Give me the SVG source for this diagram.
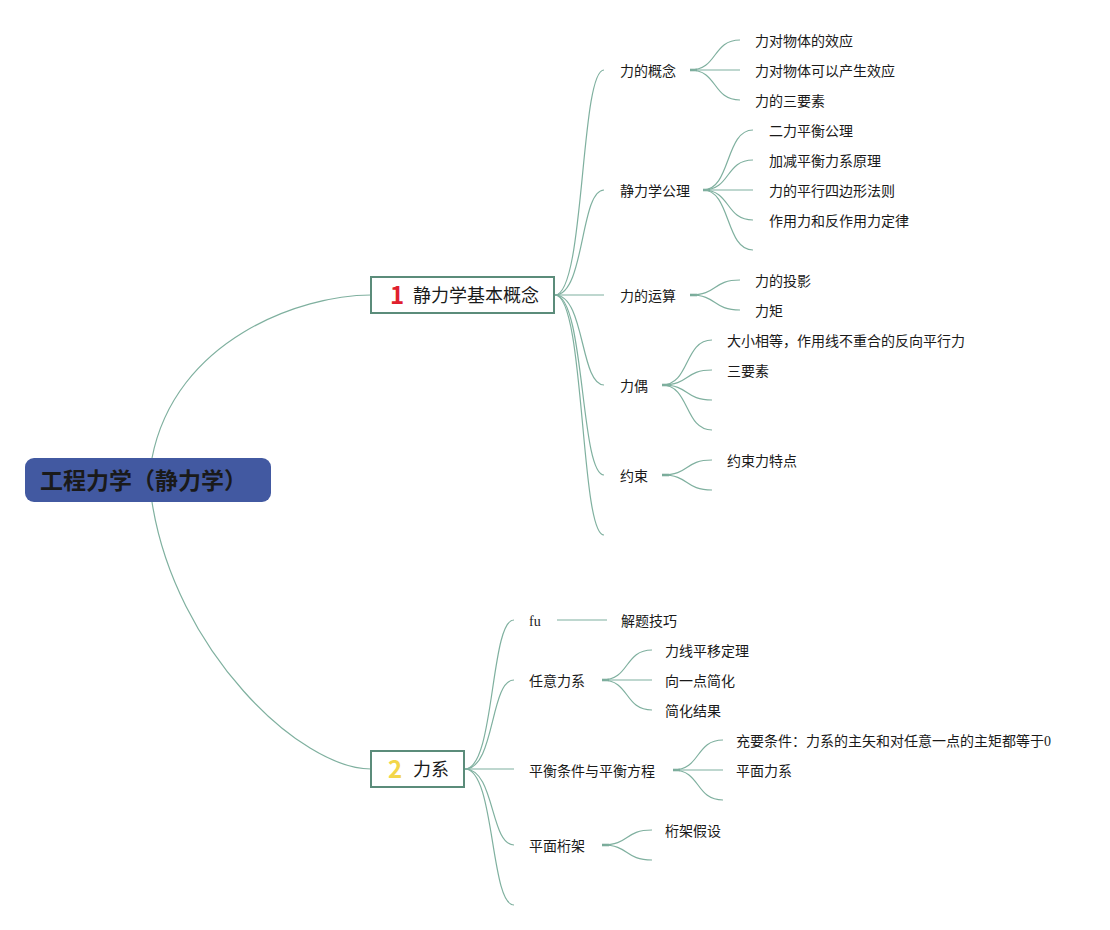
<svg xmlns="http://www.w3.org/2000/svg" width="1110" height="930" viewBox="0 0 1110 930">
<style>
text{font-family:"Noto Sans CJK SC","Liberation Sans",sans-serif;fill:#1a1a1a}
.lbl{font-size:14px}
.ser{font-family:"Liberation Serif","Noto Sans CJK SC",serif}
.ln{fill:none;stroke:#7fb09f;stroke-width:1.2}
.stub{stroke:#6c9f8d;stroke-width:2.5}
.box{fill:#fff;stroke:#5b8c7a;stroke-width:2}
</style>
<rect width="1110" height="930" fill="#fff"/>
<g id="connectors">
<path class="ln" d="M152,458 C175,340 300,295 371,295"/>
<path class="ln" d="M152,502 C175,650 300,769 371,769"/>
<!-- main1 to subs -->
<path class="ln" d="M555,295 C585,295 580,70 604,70"/>
<path class="ln" d="M555,295 C585,295 580,190 604,190"/>
<path class="ln" d="M555,295 L604,295"/>
<path class="ln" d="M555,295 C585,295 580,385 604,385"/>
<path class="ln" d="M555,295 C585,295 580,475 604,475"/>
<path class="ln" d="M555,295 C585,295 580,535 604,535"/>
<!-- 力的概念 -->
<line class="stub" x1="690" y1="70" x2="697" y2="70"/>
<path class="ln" d="M690,70 C718,70 712,40 740,40"/>
<path class="ln" d="M690,70 L740,70"/>
<path class="ln" d="M690,70 C718,70 712,100 740,100"/>
<!-- 静力学公理 -->
<line class="stub" x1="703" y1="190" x2="710" y2="190"/>
<path class="ln" d="M703,190 C731,190 725,130 753,130"/>
<path class="ln" d="M703,190 C731,190 725,160 753,160"/>
<path class="ln" d="M703,190 L753,190"/>
<path class="ln" d="M703,190 C731,190 725,220 753,220"/>
<path class="ln" d="M703,190 C731,190 725,250 753,250"/>
<!-- 力的运算 -->
<line class="stub" x1="690" y1="295" x2="697" y2="295"/>
<path class="ln" d="M690,295 C718,295 712,280 740,280"/>
<path class="ln" d="M690,295 C718,295 712,310 740,310"/>
<!-- 力偶 -->
<line class="stub" x1="662" y1="385" x2="669" y2="385"/>
<path class="ln" d="M662,385 C690,385 684,340 712,340"/>
<path class="ln" d="M662,385 C690,385 684,370 712,370"/>
<path class="ln" d="M662,385 C690,385 684,400 712,400"/>
<path class="ln" d="M662,385 C690,385 684,430 712,430"/>
<!-- 约束 -->
<line class="stub" x1="662" y1="475" x2="669" y2="475"/>
<path class="ln" d="M662,475 C690,475 684,460 712,460"/>
<path class="ln" d="M662,475 C690,475 684,490 712,490"/>
<!-- main2 to subs -->
<path class="ln" d="M465,769 C495,769 490,620 514,620"/>
<path class="ln" d="M465,769 C495,769 490,680 514,680"/>
<path class="ln" d="M465,769 L514,769"/>
<path class="ln" d="M465,769 C495,769 490,845 514,845"/>
<path class="ln" d="M465,769 C495,769 490,905 514,905"/>
<!-- fu -->
<path class="ln" d="M557,620 L607,620"/>
<!-- 任意力系 -->
<line class="stub" x1="602" y1="680" x2="609" y2="680"/>
<path class="ln" d="M602,680 C630,680 624,650 652,650"/>
<path class="ln" d="M602,680 L652,680"/>
<path class="ln" d="M602,680 C630,680 624,710 652,710"/>
<!-- 平衡条件 -->
<line class="stub" x1="673" y1="770" x2="680" y2="770"/>
<path class="ln" d="M673,770 C701,770 695,740 723,740"/>
<path class="ln" d="M673,770 L723,770"/>
<path class="ln" d="M673,770 C701,770 695,800 723,800"/>
<!-- 平面桁架 -->
<line class="stub" x1="602" y1="845" x2="609" y2="845"/>
<path class="ln" d="M602,845 C630,845 624,830 652,830"/>
<path class="ln" d="M602,845 C630,845 624,860 652,860"/>
</g>
<g id="root">
<rect x="25" y="458" width="246" height="44" rx="9" fill="#4259a1"/>
<text x="40" y="489" font-size="23" font-weight="bold" fill="#111">工程力学（静力学）</text>
</g>
<g id="main1">
<rect class="box" x="371" y="277" width="183" height="36"/>
<text x="390" y="304" font-size="24" font-weight="bold" font-family="Liberation Sans,sans-serif" style="fill:#e0202e">1</text>
<text x="413" y="302" font-size="18">静力学基本概念</text>
</g>
<g id="main2">
<rect class="box" x="371" y="751" width="93" height="36"/>
<text x="388" y="778" font-size="24" font-weight="bold" font-family="Liberation Sans,sans-serif" style="fill:#f3d64a">2</text>
<text x="413" y="776" font-size="18">力系</text>
</g>
<g id="s1"><text class="lbl" x="620" y="76">力的概念</text></g>
<g id="s1a"><text class="lbl" x="755" y="46">力对物体的效应</text></g>
<g id="s1b"><text class="lbl" x="755" y="76">力对物体可以产生效应</text></g>
<g id="s1c"><text class="lbl" x="755" y="106">力的三要素</text></g>
<g id="s2"><text class="lbl" x="620" y="196">静力学公理</text></g>
<g id="s2a"><text class="lbl" x="769" y="136">二力平衡公理</text></g>
<g id="s2b"><text class="lbl" x="769" y="166">加减平衡力系原理</text></g>
<g id="s2c"><text class="lbl" x="769" y="196">力的平行四边形法则</text></g>
<g id="s2d"><text class="lbl" x="769" y="226">作用力和反作用力定律</text></g>
<g id="s3"><text class="lbl" x="620" y="301">力的运算</text></g>
<g id="s3a"><text class="lbl" x="755" y="286">力的投影</text></g>
<g id="s3b"><text class="lbl" x="755" y="316">力矩</text></g>
<g id="s4"><text class="lbl" x="620" y="391">力偶</text></g>
<g id="s4a"><text class="lbl" x="727" y="346">大小相等，作用线不重合的反向平行力</text></g>
<g id="s4b"><text class="lbl" x="727" y="376">三要素</text></g>
<g id="s5"><text class="lbl" x="620" y="481">约束</text></g>
<g id="s5a"><text class="lbl" x="727" y="466">约束力特点</text></g>
<g id="t1"><text class="lbl ser" x="529" y="626">fu</text></g>
<g id="t1a"><text class="lbl" x="621" y="626">解题技巧</text></g>
<g id="t2"><text class="lbl" x="529" y="686">任意力系</text></g>
<g id="t2a"><text class="lbl" x="665" y="656">力线平移定理</text></g>
<g id="t2b"><text class="lbl" x="665" y="686">向一点简化</text></g>
<g id="t2c"><text class="lbl" x="665" y="716">简化结果</text></g>
<g id="t3"><text class="lbl" x="529" y="776">平衡条件与平衡方程</text></g>
<g id="t3a"><text class="lbl ser" x="736" y="746">充要条件：力系的主矢和对任意一点的主矩都等于0</text></g>
<g id="t3b"><text class="lbl" x="736" y="776">平面力系</text></g>
<g id="t4"><text class="lbl" x="529" y="851">平面桁架</text></g>
<g id="t4a"><text class="lbl" x="665" y="836">桁架假设</text></g>
</svg>
